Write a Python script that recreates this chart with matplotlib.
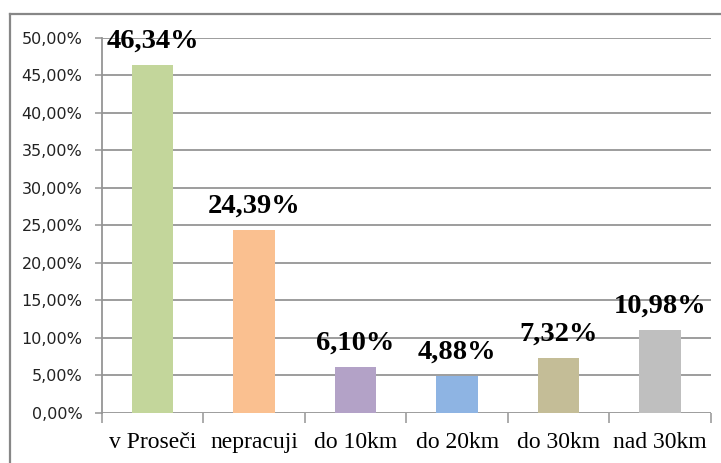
import matplotlib
matplotlib.use("Agg")
import matplotlib.pyplot as plt
from matplotlib.lines import Line2D
from matplotlib.ticker import FuncFormatter, FixedLocator

categories = ["v Proseči", "nepracuji", "do 10km", "do 20km", "do 30km", "nad 30km"]
values = [46.34, 24.39, 6.10, 4.88, 7.32, 10.98]
value_labels = ["46,34%", "24,39%", "6,10%", "4,88%", "7,32%", "10,98%"]
colors = ["#C3D69B", "#FAC090", "#B3A2C7", "#8EB4E3", "#C4BD97", "#BFBFBF"]
yticks = [0, 5, 10, 15, 20, 25, 30, 35, 40, 45, 50]

W, H = 721, 463
fig = plt.figure(figsize=(W / 100, H / 100), dpi=100)
fig.patch.set_facecolor("white")

left, right = 101.7 / W, 711 / W
bottom, top = 1 - 412.7 / H, 1 - 38 / H
ax = fig.add_axes([left, bottom, right - left, top - bottom])

x = list(range(len(categories)))
ax.bar(x, values, width=0.41, color=colors, zorder=3)

ax.set_xlim(-0.5, len(categories) - 0.5)
ax.set_ylim(0, 50)

grid_color = "#959595"
ax.yaxis.set_major_locator(FixedLocator(yticks))
ax.yaxis.set_major_formatter(FuncFormatter(lambda v, p: f"{v:.2f}".replace(".", ",") + "%"))
for t in yticks:
    ax.axhline(t, color=grid_color, lw=1.3, zorder=1)

for s in ["top", "right", "bottom"]:
    ax.spines[s].set_visible(False)
ax.spines["left"].set_color(grid_color)
ax.spines["left"].set_linewidth(1.3)

ax.tick_params(axis="y", length=5, width=1.1, color=grid_color, pad=9,
               labelsize=11.5, labelcolor="#222222")
for lab in ax.get_yticklabels():
    lab.set_family("DejaVu Sans")

# x: boundary ticks (major) and centered labels (minor)
ax.set_xticks([i - 0.5 for i in range(len(categories) + 1)])
ax.set_xticklabels([])
ax.tick_params(axis="x", which="major", length=7, width=1.1, color=grid_color)
ax.set_xticks(x, minor=True)
ax.set_xticklabels(categories, minor=True, fontfamily="Liberation Serif", fontsize=17, color="black")
ax.tick_params(axis="x", which="minor", length=0, pad=14)

for xi, v, lab in zip(x, values, value_labels):
    ax.annotate(lab, (xi, v), xytext=(0, 12.6), textcoords="offset points",
                ha="center", va="baseline", fontfamily="Liberation Serif",
                fontweight="bold", fontsize=20.5, color="black", zorder=4)

# outer chart frame (partially cropped)
fc = "#878787"
fig.add_artist(Line2D([10 / W, 10 / W], [0, 1 - 14 / H], transform=fig.transFigure, color=fc, lw=1.6))
fig.add_artist(Line2D([10 / W, 1], [1 - 14 / H, 1 - 14 / H], transform=fig.transFigure, color=fc, lw=1.6))

fig.savefig("out.png", dpi=100)
